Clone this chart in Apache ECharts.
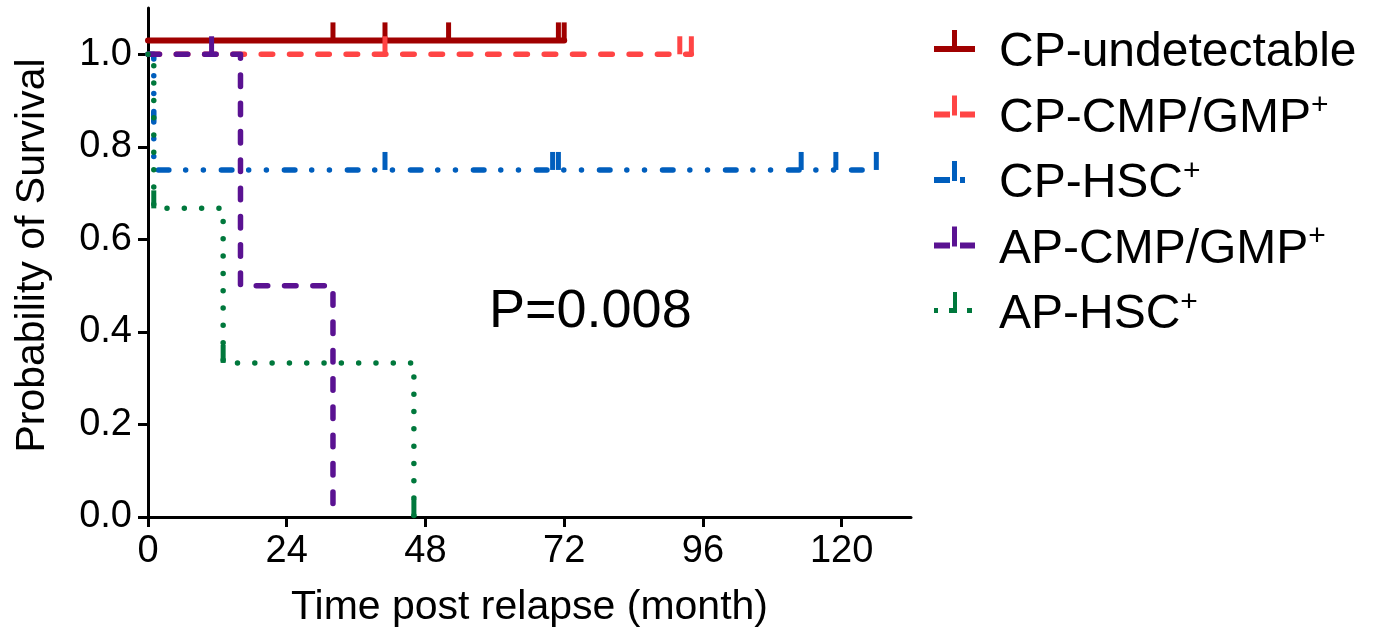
<!DOCTYPE html>
<html><head><meta charset="utf-8">
<script src="https://cdn.jsdelivr.net/npm/echarts@6/dist/echarts.min.js"></script>
<style>html,body{margin:0;padding:0;background:#fff}#chart{width:1376px;height:637px}</style>
</head><body><div id="chart"></div>
<script>
// ---- data ----
const seriesNames = ['CP-undetectable', 'CP-CMP/GMP+', 'CP-HSC+', 'AP-CMP/GMP+', 'AP-HSC+'];
const xTicks = [0, 24, 48, 72, 96, 120];
const yTicks = [0, 0.2, 0.4, 0.6, 0.8, 1.0];
const xTitle = 'Time post relapse (month)';
const yTitle = 'Probability of Survival';
const pValueText = 'P=0.008';

// step points (time, survival) and censor-mark times
const cpUndetTimes = [0, 72];
const cpUndetSurv = [1.03, 1.03];
const cpUndetCensored = [32, 41, 52, 71, 72];

const cpCmpTimes = [0, 94];
const cpCmpSurv = [1, 1];
const cpCmpCensored = [41, 92, 94];

const cpHscTimes = [0, 1, 126];
const cpHscSurv = [1, 0.75, 0.75];
const cpHscCensored = [41, 70, 71, 113, 119, 126];

const apCmpTimes = [0, 16, 32];
const apCmpSurv = [1, 0.5, 0];
const apCmpCensored = [11];

const apHscTimes = [0, 1, 13, 46];
const apHscSurv = [1, 0.667, 0.333, 0];
const apHscCensored = [1, 13, 46];

// ---- styling ----
const FONT = '"Liberation Sans", Arial, sans-serif';
const iconSolid  = 'path://M0,16 L41,16 L41,22 L0,22 Z M18,0 L23,0 L23,19 L18,19 Z M60,46 L60,46';
const iconDashed = 'path://M0,16 L16,16 L16,22 L0,22 Z M18,0 L23,0 L23,20 L18,20 Z M26,16 L41,16 L41,22 L26,22 Z M60,46 L60,46';
const iconDashDot = 'path://M0,16 L16,16 L16,22 L0,22 Z M18,0 L23,0 L23,20 L18,20 Z M26,16 L31,16 L31,22 L26,22 Z M60,46 L60,46';
const iconDotted = 'path://M0,16 L4,16 L4,21 L0,21 Z M19,0 L23,0 L23,21 L15,21 L15,16 L19,16 Z M33,16 L38,16 L38,21 L33,21 Z M60,46 L60,46';

const groups = [
  { name: seriesNames[0], times: cpUndetTimes, surv: cpUndetSurv, censored: cpUndetCensored, color: '#A00000', width: 6, dash: 'solid', icon: iconSolid },
  { name: seriesNames[1], times: cpCmpTimes, surv: cpCmpSurv, censored: cpCmpCensored, color: '#FF4545', width: 5.5, dash: [11.5, 16.8], icon: iconDashed },
  { name: seriesNames[2], times: cpHscTimes, surv: cpHscSurv, censored: cpHscCensored, color: '#005EBD', width: 5.5, dash: [10.5, 16.8, 0.01, 17.7, 0.01, 18], icon: iconDashDot },
  { name: seriesNames[3], times: apCmpTimes, surv: apCmpSurv, censored: apCmpCensored, color: '#5A1292', width: 5.5, dash: [11.5, 16.8], icon: iconDashed },
  { name: seriesNames[4], times: apHscTimes, surv: apHscSurv, censored: apHscCensored, color: '#00783C', width: 5.5, dash: [0.01, 17.3], icon: iconDotted }
];

function survAt(times, surv, t) {
  let v = surv[0];
  for (let i = 0; i < times.length; i++) if (times[i] <= t) v = surv[i];
  return v;
}

const series = [];
groups.forEach((g, idx) => {
  series.push({
    type: 'line', name: g.name, step: 'end', silent: true, z: 2 + idx,
    symbol: 'none', showSymbol: false,
    data: g.times.map((t, i) => [t, g.surv[i]]),
    lineStyle: { color: g.color, width: g.width, type: g.dash, cap: 'round', join: 'round', opacity: 1 },
    itemStyle: { color: g.color }
  });
  series.push({
    type: 'scatter', name: g.name, silent: true, z: 2 + idx,
    symbol: 'rect', symbolSize: [5, 18], symbolOffset: [0, '-50%'],
    data: g.censored.map(t => [t, survAt(g.times, g.surv, t)]),
    itemStyle: { color: g.color, opacity: 1 }
  });
});

const chart = echarts.init(document.getElementById('chart'), null, { renderer: 'canvas' });
chart.setOption({
  animation: false,
  backgroundColor: '#ffffff',
  grid: { left: 148, right: 465, top: 8, bottom: 120, containLabel: false },
  xAxis: {
    type: 'value', min: 0, max: 132, interval: 24,
    axisLine: { show: true, onZero: false, lineStyle: { color: '#000', width: 3 } },
    axisTick: { show: true, length: 10, customValues: xTicks, lineStyle: { color: '#000', width: 3 } },
    axisLabel: { customValues: xTicks, fontSize: 38, color: '#000', fontFamily: FONT, margin: 16 },
    splitLine: { show: false },
    name: xTitle, nameLocation: 'middle', nameGap: 70,
    nameTextStyle: { fontSize: 41, color: '#000', fontFamily: FONT }
  },
  yAxis: {
    type: 'value', min: 0, max: 1.1, interval: 0.2,
    axisLine: { show: true, onZero: false, lineStyle: { color: '#000', width: 3 } },
    axisTick: { show: true, length: 10, customValues: yTicks, lineStyle: { color: '#000', width: 3 } },
    axisLabel: { customValues: yTicks, fontSize: 38, color: '#000', fontFamily: FONT, margin: 16,
      formatter: v => v.toFixed(1) },
    splitLine: { show: false },
    name: yTitle, nameLocation: 'middle', nameGap: 95,
    nameTextStyle: { fontSize: 41, color: '#000', fontFamily: FONT, padding: [0, 0, 0, 14] }
  },
  legend: {
    orient: 'vertical', left: 934, top: 29, padding: 0, itemWidth: 60, itemHeight: 46, itemGap: 14,
    selectedMode: false,
    data: groups.map(g => ({ name: g.name, icon: g.icon, itemStyle: { color: g.color, borderWidth: 0 } })),
    formatter: n => n.endsWith('+') ? '{m|' + n.slice(0, -1) + '}{s|+}' : '{m|' + n + '}',
    textStyle: {
      color: '#000', fontFamily: FONT, fontSize: 48,
      rich: {
        m: { fontSize: 48, lineHeight: 55, fontFamily: FONT, color: '#000' },
        s: { fontSize: 30, lineHeight: 30, verticalAlign: 'top', fontFamily: FONT, color: '#000' }
      }
    }
  },
  graphic: [{
    type: 'text', left: 489, top: 285, silent: true,
    style: { text: pValueText, font: '54px ' + FONT, fill: '#000' }
  }],
  series: series
});
</script>
</body></html>
